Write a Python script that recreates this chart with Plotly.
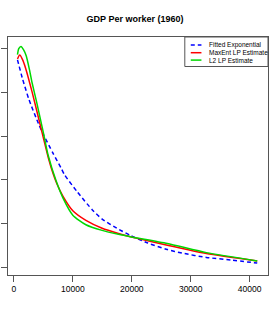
import plotly.graph_objects as go

# Density estimates (y in arbitrary units, axis labels not shown in the reference)
blue_x = [613, 1442, 2537, 4195, 4974, 6632, 8008, 8622, 10777, 13314, 14972,
          17459, 19680, 22715, 26031, 28518, 32663, 36808, 41284]
blue_y = [4.75, 4.33, 3.85, 3.28, 3.05, 2.61, 2.27, 2.11, 1.72, 1.31, 1.10,
          0.89, 0.73, 0.55, 0.40, 0.32, 0.22, 0.16, 0.09]

red_x = [613, 995, 1492, 1990, 3100, 4145, 4974, 5853, 6632, 7295, 8340, 9998,
         12219, 14972, 17741, 19946, 26031, 32663, 41284]
red_y = [4.77, 4.86, 4.75, 4.56, 4.01, 3.44, 2.98, 2.50, 2.15, 1.91, 1.62, 1.29,
         1.07, 0.89, 0.77, 0.69, 0.50, 0.31, 0.14]

green_x = [613, 829, 1210, 1658, 2106, 2653, 3100, 3863, 4974, 5803, 7179, 8340,
           9998, 12219, 14972, 17741, 19946, 26031, 32663, 41284]
green_y = [4.87, 5.01, 5.06, 4.98, 4.84, 4.52, 4.22, 3.78, 3.10, 2.57, 1.97, 1.58,
           1.19, 0.97, 0.84, 0.75, 0.69, 0.54, 0.33, 0.14]

x_ticks = [0, 10000, 20000, 30000, 40000]
y_ticks = [0, 1, 2, 3, 4, 5]

series_names = ["Fitted Exponential", "MaxEnt LP Estimate", "L2 LP Estimate"]
colors = ["#0000FF", "#FF0000", "#00D800"]
dashes = ["4px,3px", "solid", "solid"]

fig = go.Figure()
for xs, ys, name, c, d in zip([blue_x, red_x, green_x], [blue_y, red_y, green_y],
                              series_names, colors, dashes):
    fig.add_trace(go.Scatter(x=xs, y=ys, mode="lines", name=name,
                             line=dict(color=c, width=1.5, dash=d, shape="spline", smoothing=0.6),
                             showlegend=False, hoverinfo="skip"))

# Manual legend (R style)
shapes = [dict(type="rect", xref="paper", yref="paper", x0=0.680, x1=1.0, y0=0.876, y1=1.0,
               line=dict(color="#555555", width=1), fillcolor="white", layer="above")]
annotations = []
rows = [0.966, 0.934, 0.903]
for ry, name, c, d in zip(rows, series_names, colors, dashes):
    shapes.append(dict(type="line", xref="paper", yref="paper", x0=0.703, x1=0.744, y0=ry, y1=ry,
                       line=dict(color=c, width=1.5, dash=d), layer="above"))
    annotations.append(dict(xref="paper", yref="paper", x=0.766, y=ry, text=name, showarrow=False,
                            xanchor="left", yanchor="middle",
                            font=dict(family="Liberation Sans, Arial", size=6.5, color="black")))

fig.update_layout(
    width=278, height=314,
    margin=dict(l=2, r=10, t=37, b=39),
    paper_bgcolor="white", plot_bgcolor="white",
    title=dict(text="<b>GDP Per worker (1960)</b>", x=135 / 278, xanchor="center",
               y=1 - 19 / 314, yanchor="middle",
               font=dict(family="Liberation Sans, Arial", size=9, color="black")),
    shapes=shapes, annotations=annotations,
    xaxis=dict(range=[-995, 43108], tickvals=x_ticks, ticktext=[str(v) for v in x_ticks],
               showgrid=False, zeroline=False, showline=True, mirror=True,
               linecolor="#555555", linewidth=1, ticks="outside", ticklen=6,
               tickcolor="#555555", tickfont=dict(family="Liberation Sans, Arial", size=8.5,
                                                  color="black")),
    yaxis=dict(range=[-0.183, 5.275], tickvals=y_ticks, showticklabels=False,
               showgrid=False, zeroline=False, showline=True, mirror=True,
               linecolor="#555555", linewidth=1, ticks="outside", ticklen=6,
               tickcolor="#555555"),
)

fig.write_html("out.html", config={"displayModeBar": False, "staticPlot": True},
               post_script="document.body.style.margin='0px';document.body.style.overflow='hidden';")
